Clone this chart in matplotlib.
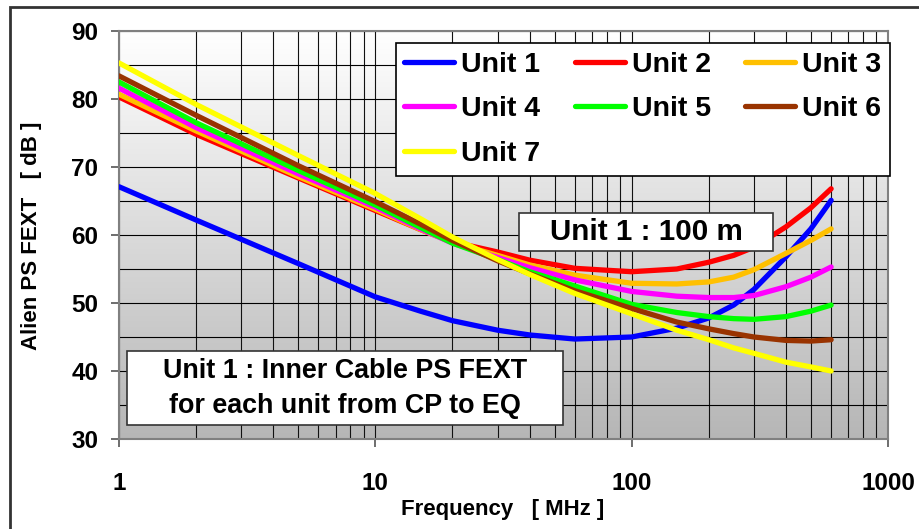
import matplotlib.pyplot as plt
import numpy as np
from matplotlib.colors import LinearSegmentedColormap
from matplotlib.patches import Rectangle

plt.rcParams['font.family'] = ['Liberation Sans', 'DejaVu Sans']
plt.rcParams['font.weight'] = 'bold'

# Alien PS FEXT per unit [dB] vs frequency [MHz]
freq = [1, 2, 5, 10, 15, 20, 30, 40, 60, 100, 150, 200, 250, 300, 400, 500, 600]
unit1 = [67.1, 62.2, 55.8, 50.9, 48.8, 47.4, 46.0, 45.3, 44.7, 45.0, 46.3, 47.8, 49.7, 52.0, 56.8, 60.9, 65.1]
unit2 = [80.3, 74.8, 68.4, 63.6, 60.8, 59.0, 57.5, 56.3, 55.1, 54.6, 55.0, 56.0, 57.0, 58.2, 61.2, 64.0, 66.8]
unit3 = [80.7, 75.3, 68.6, 63.8, 60.8, 58.9, 57.0, 55.6, 54.1, 52.9, 52.8, 53.1, 53.8, 54.9, 57.3, 59.2, 60.9]
unit4 = [81.6, 75.8, 69.0, 64.1, 60.9, 58.8, 56.7, 55.2, 53.4, 51.7, 51.0, 50.8, 50.8, 51.1, 52.4, 53.8, 55.3]
unit5 = [82.5, 76.5, 69.5, 64.4, 61.1, 58.8, 56.4, 54.6, 52.5, 49.8, 48.6, 48.0, 47.7, 47.6, 48.0, 48.8, 49.7]
unit6 = [83.4, 77.6, 70.2, 64.9, 61.6, 59.2, 56.2, 54.3, 51.8, 49.2, 47.2, 46.2, 45.5, 45.0, 44.5, 44.4, 44.6]
unit7 = [85.3, 79.2, 71.7, 66.1, 62.4, 59.7, 56.4, 54.2, 51.4, 48.4, 46.0, 44.6, 43.4, 42.6, 41.3, 40.6, 40.0]

series = [unit1, unit2, unit3, unit4, unit5, unit6, unit7]
names = ['Unit 1', 'Unit 2', 'Unit 3', 'Unit 4', 'Unit 5', 'Unit 6', 'Unit 7']
colors = ['#0000FF', '#FF0000', '#FFC000', '#FF00FF', '#00FF00', '#993300', '#FFFF00']

W, H = 919, 529
fig = plt.figure(figsize=(W / 100, H / 100), dpi=100)
rect = [119 / W, 1 - 439 / H, 769 / W, 408 / H]

# grey gradient behind the plot area
bg = fig.add_axes(rect, zorder=0)
cmap = LinearSegmentedColormap.from_list('bg', ['#b6b6b6', '#ffffff'])
bg.imshow(np.linspace(1, 0, 256).reshape(-1, 1), cmap=cmap, aspect='auto',
          extent=[0, 1, 0, 1], vmin=0, vmax=1)
bg.axis('off')

ax = fig.add_axes(rect, zorder=1)
ax.patch.set_alpha(0)

lines = []
for vals, name, c in zip(series, names, colors):
    ln, = ax.plot(freq, vals, color=c, lw=3.8, label=name, solid_capstyle='round', zorder=3)
    lines.append(ln)

ax.set_xscale('log')
ax.set_xlim(1, 1000)
ax.set_ylim(30, 90)
ax.set_xticks([1, 10, 100, 1000])
ax.set_xticklabels(['1', '10', '100', '1000'])
ax.set_yticks(range(30, 91, 10))
ax.set_yticks(range(35, 90, 10), minor=True)
ax.tick_params(which='major', labelsize=17.5, length=5.8, width=1.2, color='#555555')
ax.tick_params(axis='y', which='major', pad=9)
ax.tick_params(axis='x', which='major', pad=18)
ax.tick_params(which='minor', length=0)
ax.grid(which='both', axis='y', color='black', lw=0.8)
ax.grid(which='both', axis='x', color='#111111', lw=0.8)
for s in ax.spines.values():
    s.set_color('#808080')
    s.set_linewidth(1.5)

# legend filled row by row: Unit 1-3 / Unit 4-6 / Unit 7
order = [0, 3, 6, 1, 4, 2, 5]
leg = ax.legend([lines[i] for i in order], [names[i] for i in order], ncol=3,
                loc='upper left', bbox_to_anchor=(0.360, 0.6446, 0.6426, 0.326),
                mode='expand', borderaxespad=0, fancybox=False, framealpha=1,
                prop={'weight': 'bold', 'size': 20.5}, handlelength=1.75,
                handletextpad=0.25, labelspacing=0.66, borderpad=0.3)
leg.get_frame().set_edgecolor('black')
leg.get_frame().set_linewidth(1.2)
leg.set_zorder(5)

# annotation boxes
ax.add_patch(Rectangle((0.520, 0.4608), 0.3305, 0.0931, transform=ax.transAxes,
                       fc='white', ec='#333333', lw=1.2, zorder=4))
ax.text(0.6853, 0.5074, 'Unit 1 : 100 m', transform=ax.transAxes, ha='center',
        va='center', fontsize=21.3, fontweight='bold', zorder=5)
ax.add_patch(Rectangle((0.0104, 0.0343), 0.567, 0.1814, transform=ax.transAxes,
                       fc='white', ec='#333333', lw=1.2, zorder=4))
ax.text(0.2939, 0.1238, 'Unit 1 : Inner Cable PS FEXT\nfor each unit from CP to EQ',
        transform=ax.transAxes, ha='center', va='center', fontsize=19.4,
        fontweight='bold', linespacing=1.45, zorder=5)

fig.text(503 / W, 1 - 510 / H, 'Frequency   [ MHz ]', ha='center', va='center',
         fontsize=16, fontweight='bold')
fig.text(32 / W, 1 - 236 / H, 'Alien PS FEXT   [ dB ]', ha='center', va='center',
         rotation=90, fontsize=16, fontweight='bold')

# outer chart frame
fig.patches.append(Rectangle((10 / W, -0.1), 1.2, 1.1 - 7 / H, transform=fig.transFigure,
                             fill=False, ec='#333333', lw=2))

fig.savefig('out.png', dpi=100)
